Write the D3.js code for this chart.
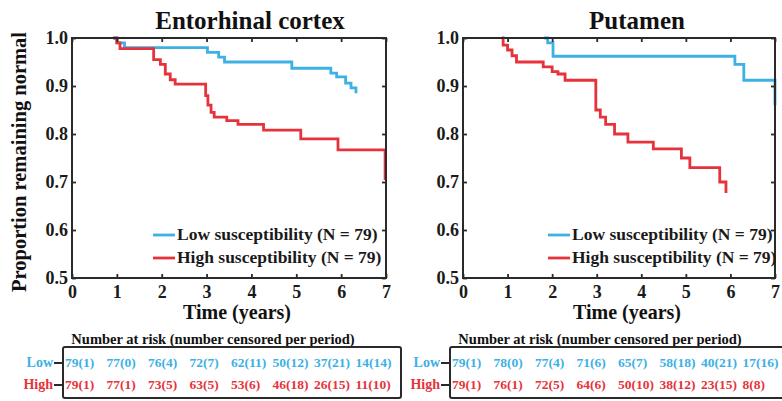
<!DOCTYPE html>
<html>
<head>
<meta charset="utf-8">
<script src="https://cdn.jsdelivr.net/npm/d3@7"></script>
<style>
  body { margin: 0; background: #fff; }
  svg text { font-family: "Liberation Serif", "Times New Roman", serif; font-weight: bold; }
</style>
</head>
<body>
<div id="chart"></div>
<script>
// survival curves (time in years, proportion)
const entoLowT = [0.92, 1.0, 1.17, 3.02, 3.27, 3.4, 4.9, 5.77, 5.9, 6.1, 6.22, 6.33]
const entoLowS = [1.0, 0.99, 0.98, 0.97, 0.96, 0.95, 0.937, 0.927, 0.919, 0.906, 0.896, 0.885]
const entoHighT = [0.92, 1.0, 1.07, 1.82, 1.97, 2.08, 2.19, 2.3, 2.98, 3.03, 3.1, 3.17, 3.45, 3.7, 4.27, 5.1, 5.93, 6.98]
const entoHighS = [1.0, 0.99, 0.978, 0.955, 0.945, 0.925, 0.913, 0.904, 0.88, 0.86, 0.845, 0.835, 0.828, 0.82, 0.808, 0.79, 0.767, 0.704]
const putLowT = [1.82, 1.9, 2.02, 6.1, 6.3, 7.0]
const putLowS = [1.0, 0.99, 0.962, 0.945, 0.912, 0.86]
const putHighT = [0.87, 0.9, 1.0, 1.1, 1.2, 1.8, 2.0, 2.13, 2.29, 2.98, 3.08, 3.2, 3.4, 3.7, 4.27, 4.9, 5.09, 5.76, 5.9]
const putHighS = [1.0, 0.985, 0.975, 0.963, 0.95, 0.94, 0.93, 0.925, 0.912, 0.85, 0.835, 0.82, 0.8, 0.783, 0.769, 0.75, 0.73, 0.7, 0.677]

// number at risk tables
const entoLowRisk = ["79(1)", "77(0)", "76(4)", "72(7)", "62(11)", "50(12)", "37(21)", "14(14)"]
const entoHighRisk = ["79(1)", "77(1)", "73(5)", "63(5)", "53(6)", "46(18)", "26(15)", "11(10)"]
const putLowRisk = ["79(1)", "78(0)", "77(4)", "71(6)", "65(7)", "58(18)", "40(21)", "17(16)"]
const putHighRisk = ["79(1)", "76(1)", "72(5)", "64(6)", "50(10)", "38(12)", "23(15)", "8(8)"]

const xTicks = [0, 1, 2, 3, 4, 5, 6, 7]
const yTicks = [0.5, 0.6, 0.7, 0.8, 0.9, 1.0]
const groups = ["Low", "High"]
const legendLabels = ["Low susceptibility (N = 79)", "High susceptibility (N = 79)"]

const blue = "#3db0e4"
const red = "#e6333b"
const ink = "#2a2a2a"

const svg = d3.select("#chart")
    .append("svg")
    .attr("width", 782)
    .attr("height", 401)

const zip = (ts, ss) => ts.map((t, i) => ({t: t, s: ss[i]}))

const drawPanel = cfg => {
    const x = d3.scaleLinear().domain([0, 7]).range([cfg.left, cfg.right])
    const y = d3.scaleLinear().domain([0.5, 1]).range([278, 38])
    const g = svg.append("g")

    // title
    g.append("text")
        .attr("x", cfg.titleX)
        .attr("y", 29)
        .attr("text-anchor", "middle")
        .attr("font-size", 25)
        .attr("fill", "#111")
        .text(cfg.title)

    // curves
    const line = d3.line()
        .x(d => x(d.t))
        .y(d => y(d.s))
        .curve(d3.curveStepAfter)

    g.selectAll("path.curve")
        .data([{pts: cfg.low, color: blue}, {pts: cfg.high, color: red}])
        .enter()
        .append("path")
        .attr("class", "curve")
        .attr("d", d => line(d.pts))
        .attr("fill", "none")
        .attr("stroke", d => d.color)
        .attr("stroke-width", 2.8)

    // axes, ticks inside like matlab
    const axB = g.append("g")
        .attr("transform", `translate(0,${y(0.5)})`)
        .call(d3.axisBottom(x).tickValues(xTicks).tickFormat(d3.format("d")).tickSize(-4).tickPadding(7))
    const axT = g.append("g")
        .attr("transform", `translate(0,${y(1)})`)
        .call(d3.axisTop(x).tickValues(xTicks).tickSize(-4).tickFormat(""))
    const axL = g.append("g")
        .attr("transform", `translate(${cfg.left},0)`)
        .call(d3.axisLeft(y).tickValues(yTicks).tickFormat(d3.format(".1f")).tickSize(-4).tickPadding(4))
    const axR = g.append("g")
        .attr("transform", `translate(${cfg.right},0)`)
        .call(d3.axisRight(y).tickValues(yTicks).tickSize(-4).tickFormat(""))

    ;[axB, axT, axL, axR].forEach(ax => {
        ax.select(".domain").remove()
        ax.selectAll(".tick line").attr("stroke", ink).attr("stroke-width", 1.8)
        ax.selectAll("text")
            .attr("font-size", 18)
            .attr("fill", "#1a1a1a")
            .attr("font-family", "'Liberation Serif', serif")
            .attr("font-weight", "bold")
    })

    g.append("rect")
        .attr("x", cfg.left)
        .attr("y", y(1))
        .attr("width", cfg.right - cfg.left)
        .attr("height", y(0.5) - y(1))
        .attr("fill", "none")
        .attr("stroke", ink)
        .attr("stroke-width", 2)

    // legend
    const leg = g.selectAll("g.leg")
        .data(legendLabels)
        .enter()
        .append("g")
        .attr("class", "leg")
        .attr("transform", (d, i) => `translate(${cfg.legX},${235 + i * 23})`)
    leg.append("line")
        .attr("x1", 0).attr("x2", 22)
        .attr("stroke", (d, i) => i ? red : blue)
        .attr("stroke-width", 2.8)
    leg.append("text")
        .attr("x", 24)
        .attr("y", 5)
        .attr("font-size", 17.5)
        .attr("fill", "#1a1a1a")
        .text(d => d)

    // x label
    g.append("text")
        .attr("x", cfg.xLabelX)
        .attr("y", 319)
        .attr("text-anchor", "middle")
        .attr("font-size", 20)
        .attr("fill", "#111")
        .text("Time (years)")

    // number at risk box
    g.append("text")
        .attr("x", cfg.boxX + 150)
        .attr("y", 344)
        .attr("text-anchor", "middle")
        .attr("font-size", 14.5)
        .attr("fill", "#111")
        .text("Number at risk (number censored per period)")

    g.append("rect")
        .attr("x", cfg.boxX)
        .attr("y", 347)
        .attr("width", 338)
        .attr("height", 51)
        .attr("rx", 2)
        .attr("fill", "none")
        .attr("stroke", ink)
        .attr("stroke-width", 2)

    const col = d3.scaleBand().domain(d3.range(8)).range([cfg.boxX + 2, cfg.boxX + 334])
    const row = d3.scalePoint().domain(groups).range([367, 389])

    const rows = [cfg.lowRisk, cfg.highRisk]
    groups.forEach((grp, gi) => {
        const color = gi ? red : blue
        g.append("text")
            .attr("x", cfg.boxX - 10)
            .attr("y", row(grp))
            .attr("text-anchor", "end")
            .attr("font-size", 14)
            .attr("fill", color)
            .text(grp)
        g.append("line")
            .attr("x1", cfg.boxX - 9).attr("x2", cfg.boxX)
            .attr("y1", row(grp) - 4).attr("y2", row(grp) - 4)
            .attr("stroke", ink)
            .attr("stroke-width", 2)
        g.selectAll(null)
            .data(rows[gi])
            .enter()
            .append("text")
            .attr("x", (d, i) => col(i))
            .attr("y", row(grp))
            .attr("font-size", 13.5)
            .attr("fill", color)
            .text(d => d)
    })
}

drawPanel({
    title: "Entorhinal cortex", titleX: 250,
    left: 72, right: 386, legX: 153, xLabelX: 237, boxX: 63,
    low: zip(entoLowT, entoLowS), high: zip(entoHighT, entoHighS),
    lowRisk: entoLowRisk, highRisk: entoHighRisk
})

drawPanel({
    title: "Putamen", titleX: 637,
    left: 463, right: 775, legX: 548, xLabelX: 627, boxX: 450,
    low: zip(putLowT, putLowS), high: zip(putHighT, putHighS),
    lowRisk: putLowRisk, highRisk: putHighRisk
})

// y label, only on the left panel
svg.append("text")
    .attr("transform", "translate(26,162) rotate(-90)")
    .attr("text-anchor", "middle")
    .attr("font-size", 20.5)
    .attr("fill", "#111")
    .text("Proportion remaining normal")
</script>
</body>
</html>
